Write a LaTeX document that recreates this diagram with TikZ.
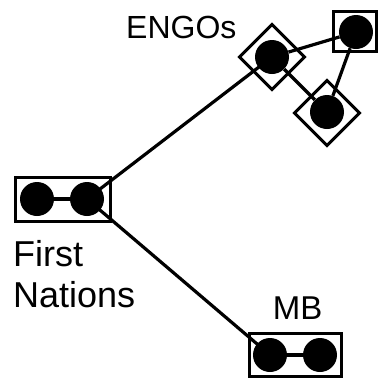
\documentclass[tikz,border=0pt]{standalone}
\usepackage{fontspec}
\setmainfont{Liberation Sans}
\usetikzlibrary{backgrounds}
\tikzset{
  actor/.style={circle, fill=black, inner sep=0pt, minimum size=34pt},
  groupbox/.style={draw, line width=3pt, inner sep=0pt},
  groupdiamond/.style={draw, line width=3pt, inner sep=0pt, minimum size=46pt, rotate=45},
  tie/.style={line width=3.2pt},
  lbl/.style={inner sep=0pt}
}
\begin{document}
\begin{tikzpicture}[x=1pt, y=-1pt]
  \useasboundingbox (0,0) rectangle (380,381);

  % group outlines
  \node[groupbox, minimum width=95pt, minimum height=44pt] (fnbox) at (63,199.5) {};
  \node[groupbox, minimum width=92pt, minimum height=43pt] (mbbox) at (295.5,355) {};
  \node[groupbox, minimum width=43pt, minimum height=40pt] (e2box) at (355,31.5) {};
  \node[groupdiamond] (e1box) at (272,57) {};
  \node[groupdiamond] (e3box) at (327,113) {};

  % actors
  \node[actor] (fn1) at (37,199) {};
  \node[actor] (fn2) at (87,199) {};
  \node[actor] (mb1) at (270,355) {};
  \node[actor] (mb2) at (320,355) {};
  \node[actor] (e1) at (272,57) {};
  \node[actor] (e2) at (356,32) {};
  \node[actor] (e3) at (327,112) {};

  % ties between actors
  \begin{scope}[on background layer]
    \draw[tie] (fn1) -- (fn2);
    \draw[tie] (mb1) -- (mb2);
    \draw[tie] (fn2.center) -- (e1.center);
    \draw[tie] (fn2.center) -- (mb1.center);
    \draw[tie] (e1) -- (e2);
    \draw[tie] (e2) -- (e3);
    \draw[tie] (e1) -- (e3);
  \end{scope}

  % labels
  \node[lbl, anchor=base west, font=\fontsize{32}{38}\selectfont] (engos) at (126,38.3) {ENGOs};
  \node[lbl, anchor=base west, font=\fontsize{36}{42}\selectfont] (first) at (13,266.7) {First};
  \node[lbl, anchor=base west, font=\fontsize{36}{42}\selectfont] (nations) at (13,307) {Nations};
  \node[lbl, anchor=base, font=\fontsize{33}{38}\selectfont] (mb) at (297.7,319.3) {MB};
\end{tikzpicture}
\end{document}
